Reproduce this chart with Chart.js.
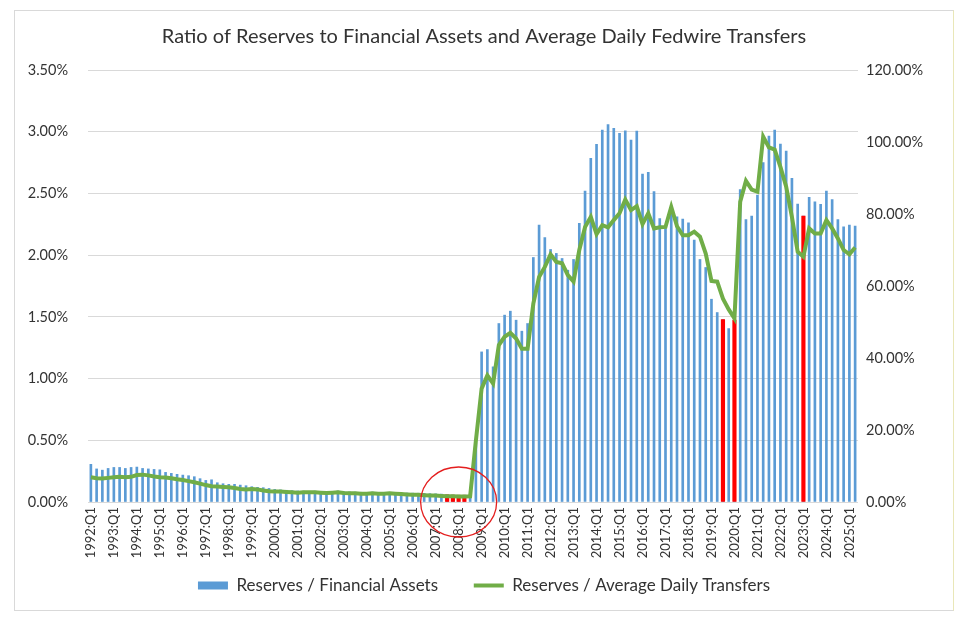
<!DOCTYPE html>
<html>
<head>
<meta charset="utf-8">
<script src="https://cdn.jsdelivr.net/npm/chart.js@4.4.1/dist/chart.umd.min.js"></script>
<style>
  body { margin: 0; background: #fff; }
  #wrap {
    position: absolute; left: 14px; top: 10px;
    width: 938px; height: 599px;
    border: 1px solid #d9d9d9; border-right-color: #e9e7b8;
  }
</style>
</head>
<body>
<div id="wrap"><canvas id="chart"></canvas></div>
<script>
// quarterly, 1992:Q1 .. 2025:Q2
const firstYear = 1992;
const quarterCount = 134;
const categories = [];
for (let i = 0; i < quarterCount; i++) {
    categories.push((firstYear + Math.floor(i / 4)) + ':Q' + (i % 4 + 1));
}

// Reserves / Financial Assets (%), left axis
const reservesToAssets = [
    0.305, 0.268, 0.258, 0.272, 0.280, 0.280, 0.272, 0.280, 0.283, 0.272, 0.268, 0.264,
    0.261, 0.240, 0.232, 0.224, 0.218, 0.213, 0.205, 0.189, 0.175, 0.180, 0.156, 0.148,
    0.143, 0.143, 0.137, 0.132, 0.124, 0.119, 0.116, 0.110, 0.102,
    0.098, 0.095, 0.092, 0.090, 0.088, 0.086, 0.088, 0.085, 0.083, 0.086, 0.090, 0.084,
    0.082, 0.080, 0.079, 0.078, 0.080, 0.077, 0.076, 0.078, 0.076, 0.074, 0.073, 0.072,
    0.071, 0.070, 0.068, 0.066, 0.064, 0.058, 0.056, 0.055, 0.055, 0.057,
    0.48,
    1.216, 1.235, 1.095, 1.446, 1.514, 1.546, 1.473, 1.384, 1.446, 1.981, 2.243, 2.143,
    2.046, 2.014, 1.973, 1.878, 1.965, 2.257, 2.519, 2.784, 2.897, 3.014, 3.057, 3.027,
    2.986, 3.008, 2.932, 3.005, 2.657, 2.670, 2.514, 2.297,
    2.216, 2.330, 2.311, 2.292, 2.262, 2.122, 1.965, 1.900, 1.643, 1.535, 1.478, 1.405,
    1.473, 2.532, 2.289, 2.316, 2.486, 2.750, 2.965, 3.014, 2.900, 2.843, 2.622, 2.414,
    2.316, 2.468, 2.432, 2.411, 2.519, 2.451, 2.289, 2.230, 2.243, 2.235
];

// Reserves / Average Daily Transfers (%), right axis
const reservesToTransfers = [
    6.9, 6.6, 6.5, 6.7, 6.9, 7.0, 6.9, 7.0, 7.5, 7.6, 7.4, 7.1,
    6.9, 6.8, 6.6, 6.3, 6.1, 5.8, 5.5, 5.1, 4.7, 4.4, 4.3, 4.2,
    4.1, 3.9, 3.6, 3.5, 3.6, 3.5, 3.2, 3.0, 2.9,
    2.9, 2.8, 2.7, 2.6, 2.7, 2.7, 2.7, 2.6, 2.5, 2.6, 2.7, 2.5,
    2.4, 2.4, 2.3, 2.3, 2.4, 2.3, 2.3, 2.4, 2.3, 2.2, 2.1, 2.0,
    2.0, 1.9, 1.8, 1.8, 1.7, 1.6, 1.6, 1.5, 1.5, 1.6,
    17,
    31.5, 35.2, 32.9, 43.6, 45.9, 47.0, 45.4, 42.6, 42.6, 55.1, 62.5, 65.3,
    68.8, 66.7, 66.3, 63.0, 61.2, 70.0, 76.4, 79.2, 74.4, 76.9, 76.3, 78.3,
    80.2, 84.0, 81.1, 82.2, 77.2, 80.2, 76.0, 76.3, 76.4, 82.0,
    76.6, 74.1, 74.1, 75.1, 73.7, 69.0, 61.4, 61.2, 56.5, 53.5, 51.0, 83.4,
    89.2, 86.8, 86.2, 101.5, 98.5, 97.9, 93.1, 87.6, 79.2, 69.5, 68.1, 76.0,
    74.6, 74.6, 78.3, 76.0, 73.2, 70.0, 68.8, 70.7
];

// quarters highlighted in red
const highlightQuarters = ['2007:Q3', '2007:Q4', '2008:Q1', '2008:Q2', '2019:Q3', '2020:Q1', '2023:Q1'];
const circledQuarter = '2008:Q1';

const leftTicks = [0, 3.5, 0.5];
const rightTicks = [0, 120, 20];

const highlighted = categories.map((c, i) =>
    highlightQuarters.includes(c) ? reservesToAssets[i] : null);

const circlePlugin = {
    id: 'crisisCircle',
    afterDatasetsDraw(chart) {
        const ctx = chart.ctx;
        const cx = chart.scales.x.getPixelForValue(categories.indexOf(circledQuarter));
        const cy = chart.scales.y.getPixelForValue(0);
        ctx.save();
        ctx.strokeStyle = '#e41e1e';
        ctx.lineWidth = 1.3;
        ctx.beginPath();
        ctx.ellipse(cx, cy, 38, 35, 0, 0, Math.PI * 2);
        ctx.stroke();
        ctx.restore();
    }
};

const font = 'Lato';
const textColor = '#333333';
const legendGap = '     '; // extra room after the first legend entry

new Chart(document.getElementById('chart'), {
    type: 'bar',
    plugins: [circlePlugin],
    data: {
        labels: categories,
        datasets: [{
            label: 'Reserves / Financial Assets',
            data: reservesToAssets,
            backgroundColor: '#5b9bd5',
            barThickness: 2,
            grouped: false,
            order: 3,
            yAxisID: 'y'
        }, {
            type: 'line',
            label: 'Reserves / Average Daily Transfers',
            data: reservesToTransfers,
            borderColor: '#70ad47',
            backgroundColor: '#70ad47',
            borderWidth: 4,
            pointRadius: 0,
            tension: 0,
            order: 1,
            yAxisID: 'y1'
        }, {
            label: 'highlight',
            data: highlighted,
            backgroundColor: '#ff0000',
            barThickness: 3.5,
            grouped: false,
            order: 2,
            yAxisID: 'y'
        }]
    },
    options: {
        responsive: true,
        maintainAspectRatio: false,
        animation: false,
        devicePixelRatio: 1,
        layout: { padding: { left: 0, right: 0, top: 0, bottom: 6 } },
        plugins: {
            title: {
                display: true,
                text: 'Ratio of Reserves to Financial Assets and Average Daily Fedwire Transfers',
                color: textColor,
                font: { family: font, size: 20, weight: 'normal' },
                padding: { top: 14, bottom: 21 }
            },
            legend: {
                position: 'bottom',
                labels: {
                    usePointStyle: true,
                    pointStyleWidth: 30,
                    boxHeight: 8,
                    padding: 14,
                    color: textColor,
                    font: { family: font, size: 17 },
                    generateLabels(chart) {
                        return [0, 1].map(i => {
                            const ds = chart.data.datasets[i];
                            const isLine = ds.type === 'line';
                            return {
                                text: isLine ? ds.label : ds.label + legendGap,
                                datasetIndex: i,
                                fillStyle: ds.backgroundColor,
                                strokeStyle: isLine ? ds.borderColor : ds.backgroundColor,
                                lineWidth: isLine ? 4 : 0,
                                pointStyle: isLine ? 'line' : 'rect',
                                fontColor: textColor,
                                hidden: false
                            };
                        });
                    }
                },
                onClick: null
            },
            tooltip: { enabled: false }
        },
        scales: {
            x: {
                grid: { display: false, drawTicks: false },
                border: { display: false },
                ticks: {
                    autoSkip: false,
                    minRotation: 90,
                    maxRotation: 90,
                    padding: 5,
                    color: textColor,
                    font: { family: font, size: 13 },
                    callback: (v, i) => (i % 4 === 0 ? categories[i] : null)
                },
                afterFit: s => { s.height = 61; }
            },
            y: {
                position: 'left',
                min: leftTicks[0],
                max: leftTicks[1],
                grid: { color: '#d9d9d9', drawTicks: false },
                border: { display: false },
                ticks: {
                    stepSize: leftTicks[2],
                    padding: 20,
                    color: textColor,
                    font: { family: font, size: 14.5 },
                    callback: v => v.toFixed(2) + '%'
                },
                afterFit: s => { s.width = 73; }
            },
            y1: {
                position: 'right',
                min: rightTicks[0],
                max: rightTicks[1],
                grid: { display: false, drawTicks: false },
                border: { display: false },
                ticks: {
                    stepSize: rightTicks[2],
                    padding: 8,
                    color: textColor,
                    font: { family: font, size: 14.5 },
                    callback: v => v.toFixed(2) + '%'
                },
                afterFit: s => { s.width = 95; }
            }
        }
    }
});
</script>
</body>
</html>
